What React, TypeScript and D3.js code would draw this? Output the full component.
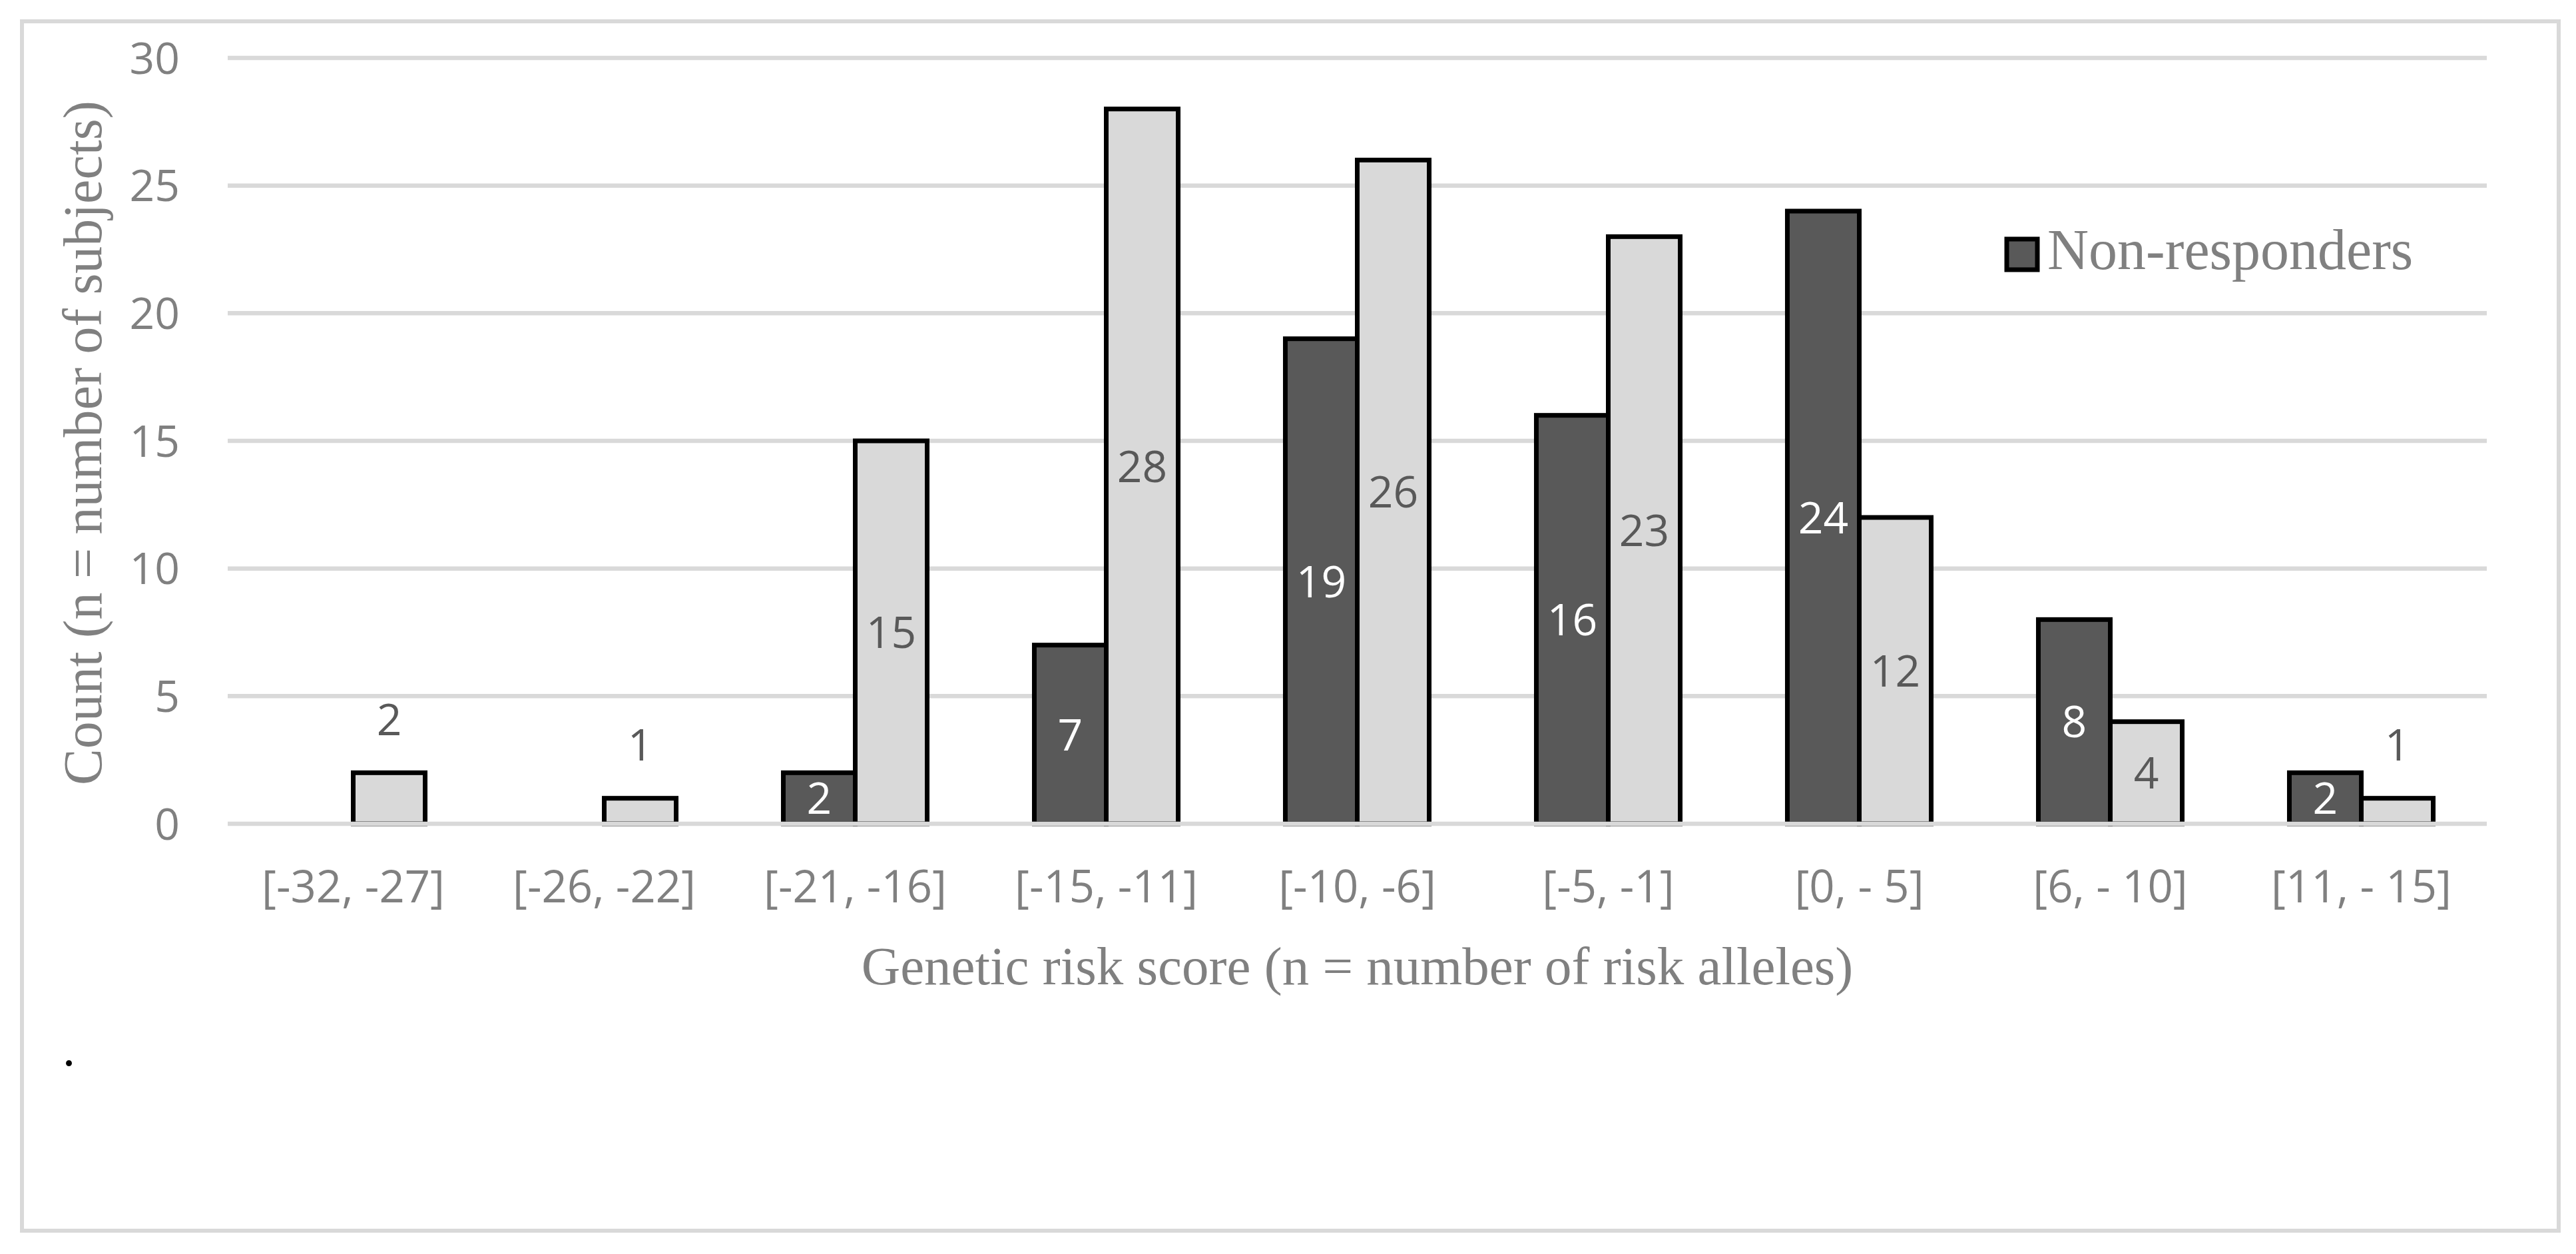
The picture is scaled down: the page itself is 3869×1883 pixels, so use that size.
import React from "react";
import * as d3 from "d3";

const categories = [
  "[-32, -27]",
  "[-26, -22]",
  "[-21, -16]",
  "[-15, -11]",
  "[-10, -6]",
  "[-5, -1]",
  "[0, - 5]",
  "[6, - 10]",
  "[11, - 15]",
];
const nonResponders = [0, 0, 2, 7, 19, 16, 24, 8, 2];
const responders = [2, 1, 15, 28, 26, 23, 12, 4, 1];
const yTicks = [0, 5, 10, 15, 20, 25, 30];
const seriesNames = ["Non-responders", "Responders"];

const W = 3869;
const H = 1883;
const plot = { left: 342, right: 3735, top: 87, bottom: 1237 };

const sans = "'Open Sans', 'DejaVu Sans', sans-serif";
const serif = "'Liberation Serif', 'DejaVu Serif', serif";
const grid = "#d9d9d9";
const dark = "#595959";
const light = "#d9d9d9";
const axisText = "#808080";

export default function App() {
  const x = d3.scaleBand<string>().domain(categories).range([plot.left, plot.right]).padding(0);
  const xs = d3
    .scaleBand<string>()
    .domain(seriesNames)
    .range([0, x.bandwidth()])
    .paddingInner(0)
    .paddingOuter(0.745);
  const y = d3.scaleLinear().domain([0, 30]).range([plot.bottom, plot.top]);

  const series = [
    { name: seriesNames[0], values: nonResponders, fill: dark, label: "#ffffff" },
    { name: seriesNames[1], values: responders, fill: light, label: "#595959" },
  ];

  return (
    <svg
      width={W}
      height={H}
      style={{ position: "absolute", left: 0, top: 0, background: "#fff" }}
    >
      <rect x={33} y={32} width={3810} height={1816} fill="#fff" stroke={grid} strokeWidth={6} />

      {/* gridlines + y ticks */}
      {yTicks.map((t) => (
        <g key={t}>
          {t > 0 && (
            <line x1={plot.left} x2={plot.right} y1={y(t)} y2={y(t)} stroke={grid} strokeWidth={6.5} />
          )}
          <text
            x={270}
            y={y(t)}
            dy="0.36em"
            textAnchor="end"
            fontFamily={sans}
            fontSize={66}
            fill={axisText}
          >
            {t}
          </text>
        </g>
      ))}

      {/* bars */}
      {series.map((s) =>
        categories.map((c, i) => {
          const v = s.values[i];
          if (!v) return null;
          const bx = (x(c) as number) + (xs(s.name) as number);
          return (
            <rect
              key={s.name + c}
              x={bx}
              y={y(v)}
              width={xs.bandwidth()}
              height={y(0) - y(v)}
              fill={s.fill}
              stroke="#000"
              strokeWidth={7}
            />
          );
        })
      )}

      {/* axis line drawn over the bar bottoms */}
      <line x1={plot.left} x2={plot.right} y1={y(0)} y2={y(0)} stroke={grid} strokeWidth={6.5} />

      {/* data labels */}
      {series.map((s, si) =>
        categories.map((c, i) => {
          const v = s.values[i];
          if (!v) return null;
          const cx = (x(c) as number) + (xs(s.name) as number) + xs.bandwidth() / 2;
          const outside = si === 1 && v < 3;
          const cy = outside ? y(v) - 80 : (y(v) + y(0)) / 2;
          return (
            <text
              key={"l" + s.name + c}
              x={cx}
              y={cy}
              dy="0.36em"
              textAnchor="middle"
              fontFamily={sans}
              fontSize={66}
              fill={outside ? "#595959" : s.label}
            >
              {v}
            </text>
          );
        })
      )}

      {/* x tick labels */}
      {categories.map((c) => (
        <text
          key={"t" + c}
          x={(x(c) as number) + x.bandwidth() / 2}
          y={1355}
          textAnchor="middle"
          fontFamily={sans}
          fontSize={67}
          fill={axisText}
        >
          {c}
        </text>
      ))}

      {/* axis titles */}
      <text
        x={(plot.left + plot.right) / 2}
        y={1478}
        textAnchor="middle"
        fontFamily={serif}
        fontSize={81}
        fill={axisText}
      >
        Genetic risk score (n = number of risk alleles)
      </text>
      <text
        transform={`translate(152,${(plot.top + plot.bottom) / 2 + 3}) rotate(-90)`}
        textAnchor="middle"
        fontFamily={serif}
        fontSize={82}
        fill={axisText}
      >
        Count (n = number of subjects)
      </text>

      {/* legend */}
      <rect x={3014} y={359} width={46} height={46} fill={dark} stroke="#000" strokeWidth={7} />
      <text x={3075} y={404} fontFamily={serif} fontSize={86} fill={axisText}>
        {seriesNames[0]}
      </text>

      <text x={94} y={1600} fontFamily={serif} fontSize={76} fill="#000">
        .
      </text>
    </svg>
  );
}
